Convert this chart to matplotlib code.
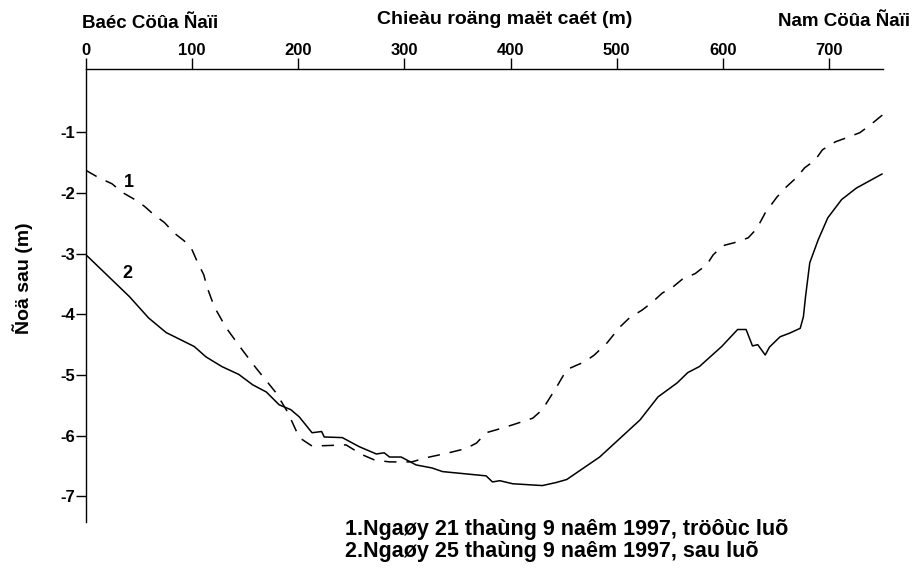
import matplotlib
matplotlib.use("Agg")
import matplotlib.pyplot as plt

plt.rcParams['font.family'] = ['Liberation Sans', 'DejaVu Sans']
plt.rcParams['font.weight'] = 'bold'

# Series 1: 21/9/1997 (before flood) - dashed
x1 = [0, 12, 24.5, 34, 45, 55, 64, 74, 83, 92.5, 100, 105, 111, 114, 121, 132, 147,
      160, 179, 190, 201, 213, 245, 260, 272, 286, 307, 321, 342, 358, 368, 377, 387,
      402, 421, 430, 443, 453, 470, 479, 491, 503, 512, 524, 533, 543, 553, 562, 574,
      585, 591, 600, 611, 624, 632, 640, 651, 660, 670, 677, 687, 694, 706, 717, 729,
      737, 751]
y1 = [-1.63, -1.75, -1.85, -1.99, -2.10, -2.22, -2.36, -2.49, -2.66, -2.79, -2.94,
      -3.14, -3.35, -3.55, -3.88, -4.22, -4.58, -4.88, -5.29, -5.61, -6.03, -6.17,
      -6.15, -6.31, -6.40, -6.43, -6.43, -6.36, -6.28, -6.21, -6.12, -5.95, -5.90,
      -5.82, -5.71, -5.57, -5.21, -4.91, -4.78, -4.67, -4.47, -4.21, -4.06, -3.93,
      -3.81, -3.65, -3.55, -3.42, -3.33, -3.18, -3.02, -2.87, -2.82, -2.74, -2.59,
      -2.33, -2.07, -1.90, -1.74, -1.59, -1.46, -1.29, -1.16, -1.09, -1.01, -0.91,
      -0.71]

# Series 2: 25/9/1997 (after flood) - solid
x2 = [0, 41, 59, 75.5, 102, 113, 128, 144, 157, 170, 182, 193, 201, 213, 222, 224.5,
      241.5, 257.5, 273.6, 281, 286, 297, 311, 326, 336, 377, 383, 390, 402, 430, 443,
      453, 484, 522, 539, 557, 567, 578, 599, 614, 622, 628, 633, 640, 644, 654, 663,
      673, 676, 678, 682, 690, 699, 712, 726, 750]
y2 = [-3.02, -3.71, -4.06, -4.30, -4.53, -4.70, -4.86, -4.99, -5.16, -5.28, -5.49,
      -5.57, -5.69, -5.95, -5.93, -6.02, -6.03, -6.18, -6.30, -6.28, -6.35, -6.35,
      -6.48, -6.53, -6.59, -6.66, -6.76, -6.74, -6.79, -6.82, -6.77, -6.72, -6.35,
      -5.74, -5.36, -5.13, -4.96, -4.86, -4.53, -4.25, -4.25, -4.52, -4.50, -4.67,
      -4.54, -4.37, -4.31, -4.23, -4.04, -3.71, -3.15, -2.77, -2.41, -2.11, -1.92,
      -1.69]

xticks = [0, 100, 200, 300, 400, 500, 600, 700]
yticks = [-1, -2, -3, -4, -5, -6, -7]

title_left = "Baéc Cöûa Ñaïi"
title_mid = "Chieàu roäng maët caét (m)"
title_right = "Nam Cöûa Ñaïi"
ylabel = "Ñoä sau (m)"
legend1 = "1.Ngaøy 21 thaùng 9 naêm 1997, tröôùc luõ"
legend2 = "2.Ngaøy 25 thaùng 9 naêm 1997, sau luõ"

fig = plt.figure(figsize=(9.15, 5.74), dpi=100)
ax = fig.add_axes([86/915, 1-522/574, (883-86)/915, (522-69)/574])

l1, = ax.plot(x1, y1, color='black', lw=1.1)
l1.set_dashes((8, 6.5))
ax.plot(x2, y2, color='black', lw=1.1)

ax.set_xlim(0, 751)
ax.set_ylim(-7.42, 0.04)

ax.xaxis.tick_top()
ax.set_xticks(xticks)
ax.set_xticklabels([str(v) for v in xticks], fontsize=12, fontweight='bold')
ax.set_yticks(yticks)
ax.set_yticklabels([str(v) for v in yticks], fontsize=12, fontweight='bold')
ax.tick_params(axis='x', direction='out', length=8, width=1, pad=0)
ax.tick_params(axis='y', direction='out', length=7, width=1, pad=1)

ax.spines['right'].set_visible(False)
ax.spines['bottom'].set_visible(False)
ax.spines['top'].set_linewidth(1.0)
ax.spines['left'].set_linewidth(1.0)

ax.text(40.6, -1.83, "1", fontsize=13, fontweight='bold', ha='center', va='center')
ax.text(38.7, -3.32, "2", fontsize=13, fontweight='bold', ha='center', va='center')

fig.text(82/915, 1-24/574, title_left, fontsize=13.5, fontweight='bold', ha='left', va='center')
fig.text(505/915, 1-20/574, title_mid, fontsize=14, fontweight='bold', ha='center', va='center')
fig.text(910/915, 1-22/574, title_right, fontsize=13.5, fontweight='bold', ha='right', va='center')
fig.text(23/915, 1-278/574, ylabel, fontsize=14, fontweight='bold', rotation=90,
         ha='center', va='center')
fig.text(345/915, 1-530/574, legend1, fontsize=15.5, fontweight='bold', ha='left', va='center')
fig.text(345/915, 1-551/574, legend2, fontsize=15.5, fontweight='bold', ha='left', va='center')

fig.savefig("out.png", dpi=100)
